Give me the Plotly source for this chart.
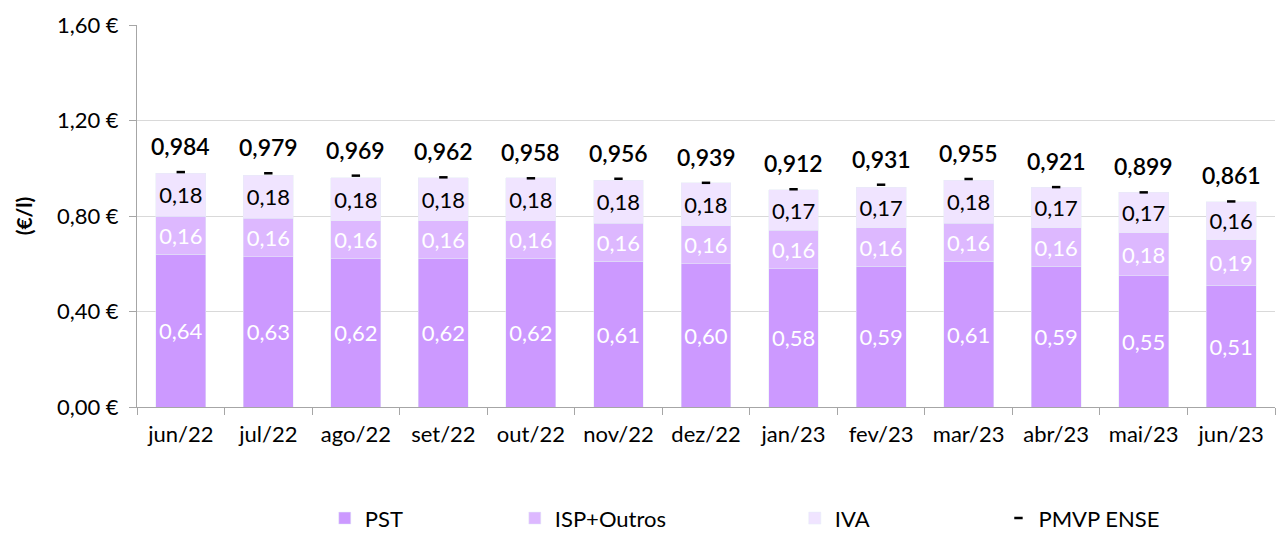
import plotly.graph_objects as go

# Monthly fuel price breakdown (€/l)
months = ["jun/22", "jul/22", "ago/22", "set/22", "out/22", "nov/22", "dez/22",
          "jan/23", "fev/23", "mar/23", "abr/23", "mai/23", "jun/23"]
pst = [0.64, 0.63, 0.62, 0.62, 0.62, 0.61, 0.60, 0.58, 0.59, 0.61, 0.59, 0.55, 0.51]
isp_outros = [0.16, 0.16, 0.16, 0.16, 0.16, 0.16, 0.16, 0.16, 0.16, 0.16, 0.16, 0.18, 0.19]
iva = [0.18, 0.18, 0.18, 0.18, 0.18, 0.18, 0.18, 0.17, 0.17, 0.18, 0.17, 0.17, 0.16]
pmvp_ense = [0.984, 0.979, 0.969, 0.962, 0.958, 0.956, 0.939, 0.912, 0.931, 0.955, 0.921, 0.899, 0.861]
y_ticks = [0.0, 0.4, 0.8, 1.2, 1.6]

FONT = "Lato"
C_PST = "#CC99FF"
C_ISP = "#DDB8FF"
C_IVA = "#F0E4FF"


def pt(v, d=2):
    return f"{v:.{d}f}".replace(".", ",")


fig = go.Figure()

fig.add_trace(go.Bar(
    x=months, y=pst, name="PST", marker_color=C_PST, legend="legend", showlegend=True,
    text=[pt(v) for v in pst], textposition="inside", insidetextanchor="middle",
    textfont=dict(color="white", size=22, family=FONT), hoverinfo="skip",
))
fig.add_trace(go.Bar(
    x=months, y=isp_outros, name="ISP+Outros", marker_color=C_ISP, legend="legend2", showlegend=True,
    text=[pt(v) for v in isp_outros], textposition="inside", insidetextanchor="middle",
    textfont=dict(color="white", size=22, family=FONT), hoverinfo="skip",
))
fig.add_trace(go.Bar(
    x=months, y=iva, name="IVA", marker_color=C_IVA, legend="legend3", showlegend=True,
    text=[pt(v) for v in iva], textposition="inside", insidetextanchor="middle",
    textfont=dict(color="black", size=22, family=FONT), hoverinfo="skip",
))
fig.add_trace(go.Scatter(
    x=months, y=pmvp_ense, name="PMVP ENSE", mode="markers", legend="legend4", showlegend=True,
    marker=dict(symbol="line-ew", size=6, color="black", line=dict(color="black", width=2.5)),
    hoverinfo="skip",
))

for m, v in zip(months, pmvp_ense):
    fig.add_annotation(
        x=m, y=v, text=pt(v, 3), showarrow=False, yanchor="bottom", yshift=10,
        font=dict(family=FONT, size=23, color="black", weight=600),
    )

legend_common = dict(
    orientation="h", yref="container", yanchor="middle", y=0.033, xanchor="left",
    font=dict(family=FONT, size=22, color="black"), bgcolor="rgba(0,0,0,0)",
    itemwidth=30, tracegroupgap=0,
)

fig.update_layout(
    width=1276, height=536,
    margin=dict(l=137, r=1, t=25, b=129),
    paper_bgcolor="white", plot_bgcolor="white",
    showlegend=True,
    barmode="stack", bargap=0.43,
    font=dict(family=FONT, size=22, color="black"),
    legend=dict(x=0.165, **legend_common),
    legend2=dict(x=0.332, **legend_common),
    legend3=dict(x=0.578, **legend_common),
    legend4=dict(x=0.757, **legend_common),
    xaxis=dict(
        range=[-0.5, len(months) - 0.5],
        showline=True, linecolor="#A6A6A6", linewidth=1,
        ticks="outside", tickson="boundaries", ticklen=7, tickcolor="#A6A6A6",
        ticklabelstandoff=8,
        tickfont=dict(family=FONT, size=22, color="black"),
    ),
    yaxis=dict(
        range=[0, 1.6], tickvals=y_ticks, ticktext=[pt(v) + " €" for v in y_ticks],
        showline=True, linecolor="#A6A6A6", linewidth=1,
        ticks="outside", ticklen=7, tickcolor="#A6A6A6", ticklabelstandoff=6,
        showgrid=True, gridcolor="#D9D9D9", gridwidth=1, zeroline=False,
        tickfont=dict(family=FONT, size=22, color="black"),
        title=dict(text="<b>(€/l)</b>", font=dict(family=FONT, size=21, color="black"), standoff=18),
    ),
)

fig.write_html("out.html")
